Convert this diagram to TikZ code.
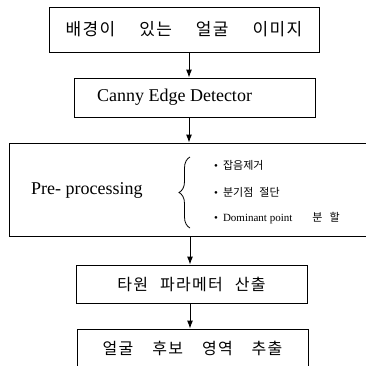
\documentclass[tikz,border=0pt]{standalone}
\usepackage{fontspec}
\setmainfont{Liberation Serif}
\newfontfamily\kr[LetterSpace=8]{Noto Sans CJK KR}
\newfontfamily\krsmall{Noto Sans CJK KR}
\usetikzlibrary{arrows.meta,decorations.pathreplacing}

\tikzset{
  stage/.style={draw=black, line width=0.9pt, inner sep=0pt, rectangle},
  flow/.style={-{Latex[length=8pt,width=6pt]}, line width=0.9pt},
  item/.style={anchor=west, inner sep=0pt, font=\fontsize{11}{11}\selectfont},
}

\begin{document}
\begin{tikzpicture}[x=1pt,y=-1pt]
  \useasboundingbox (0,0) rectangle (366,365);
  \clip (0,0) rectangle (366,365);
  % boxes
  \node[stage, minimum width=270pt, minimum height=45pt] (img) at (184,29.5)
    {\kr\fontsize{17}{17}\selectfont 배경이\hspace{24pt}있는\hspace{24pt}얼굴\hspace{24pt}이미지};
  \node[stage, minimum width=241pt, minimum height=39pt] (canny) at (194.5,97.5) {};
  \node[font=\fontsize{18}{18}\selectfont] (cannytxt) at (174.5,97.5) {Canny Edge Detector};
  \node[stage, minimum width=391pt, minimum height=93pt] (prep) at (204.5,189.5) {};
  \node[stage, minimum width=231pt, minimum height=38pt] (ellipse) at (191.5,284)
    {\kr\fontsize{16}{16}\selectfont 타원\hspace{12pt}파라메터\hspace{12pt}산출};
  \node[stage, minimum width=231pt, minimum height=38pt] (cand) at (192.5,348)
    {\kr\fontsize{16}{16}\selectfont 얼굴\hspace{19pt}후보\hspace{19pt}영역\hspace{19pt}추출};
  % pre-processing contents
  \node[anchor=west, inner sep=0pt, font=\fontsize{18}{18}\selectfont] (preptxt) at (31,190) {Pre- processing};
  \coordinate (bracetop) at (190,157);
  \coordinate (bracebot) at (190,228);
  \draw[line width=0.8pt, decoration={brace, amplitude=11pt}, decorate] (bracebot) -- (bracetop);
  \node[item] (noise) at (214,165) {\textbullet\hspace{5pt}\krsmall 잡음제거};
  \node[item] (branch) at (214,192) {\textbullet\hspace{5pt}\krsmall 분기점\hspace{6pt}절단};
  \node[item] (split) at (214,218) {\textbullet\hspace{5pt}Dominant point\hspace{20pt}\krsmall 분\hspace{7pt}할};
  % connectors
  \coordinate (ax1) at (189,0);
  \coordinate (ax2) at (190,0);
  \draw[flow] (img.south -| ax1) -- (canny.north -| ax1);
  \draw[flow] (canny.south -| ax1) -- (prep.north -| ax1);
  \draw[flow] (prep.south -| ax2) -- (ellipse.north -| ax2);
  \draw[flow] (ellipse.south -| ax2) -- (cand.north -| ax2);
\end{tikzpicture}
\end{document}
